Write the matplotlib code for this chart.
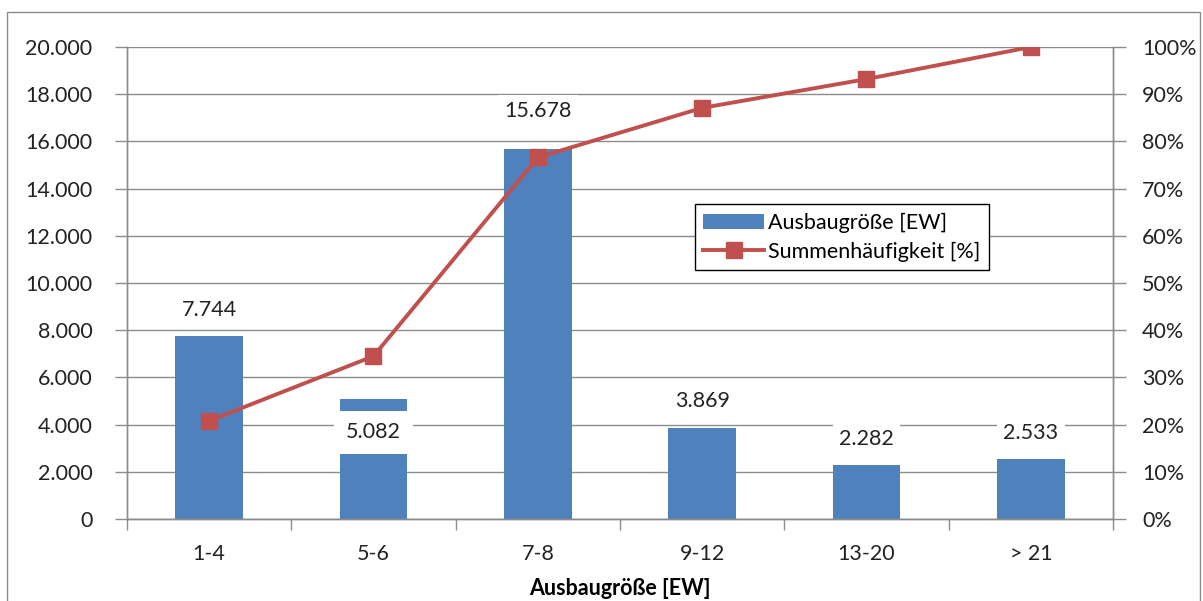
import matplotlib
matplotlib.use('Agg')
import matplotlib.pyplot as plt
import matplotlib.ticker as mticker
from matplotlib.patches import Rectangle, Patch
from matplotlib.lines import Line2D

plt.rcParams['font.family'] = ['Lato', 'DejaVu Sans']

categories = ['1-4', '5-6', '7-8', '9-12', '13-20', '> 21']
counts = [7744, 5082, 15678, 3869, 2282, 2533]
cumulative = [20.8, 34.5, 76.6, 87.1, 93.2, 100.0]
count_labels = ['7.744', '5.082', '15.678', '3.869', '2.282', '2.533']

blue = '#4F81BD'
red = '#C0504D'
grid = '#8C8C8C'
fs = 15.5

fig = plt.figure(figsize=(12.03, 6.01), dpi=100)
ax = fig.add_axes([127 / 1203, 1 - 519 / 601, 986 / 1203, 472 / 601])
ax2 = ax.twinx()

x = list(range(len(categories)))
ax.bar(x, counts, width=0.41, color=blue, zorder=2)

# label offsets in points, the 5-6 label sits inside its bar like in the original
offsets = [19, -24, 27, 19, 19, 19]
for xi, v, lab, off in zip(x, counts, count_labels, offsets):
    pad = 0.55 if off < 0 else 0.3
    ax.annotate(lab, (xi, v), xytext=(0, off), textcoords='offset points',
                ha='center', va='center', fontsize=fs, color='#222222', zorder=5,
                bbox=dict(boxstyle=f'square,pad={pad}', fc='white', ec='none'))

ax2.plot(x, [c / 100 for c in cumulative], color=red, lw=2.8, marker='s',
         markersize=11, markerfacecolor=red, markeredgecolor=red, zorder=4)

ax.set_xlim(-0.5, len(categories) - 0.5)
ax.set_ylim(0, 20000)
ax2.set_ylim(0, 1)
ax.set_yticks(range(0, 20001, 2000))
ax.yaxis.set_major_formatter(mticker.FuncFormatter(lambda v, p: f'{int(v):,}'.replace(',', '.')))
ax2.set_yticks([i / 10 for i in range(11)])
ax2.yaxis.set_major_formatter(mticker.FuncFormatter(lambda v, p: f'{int(round(v * 100))}%'))

ax.set_xticks(x)
ax.set_xticklabels(categories)
ax.set_xticks([i - 0.5 for i in range(len(categories) + 1)], minor=True)
ax.tick_params(axis='x', which='major', length=0, pad=18, labelsize=fs, colors='#222222')
ax.tick_params(axis='x', which='minor', length=8, color=grid, width=1)
ax.tick_params(axis='y', length=9, color=grid, width=1, pad=16, labelsize=fs, labelcolor='#222222')
ax2.tick_params(axis='y', length=9, color=grid, width=1, pad=12, labelsize=fs, labelcolor='#222222')

ax.grid(axis='y', color=grid, lw=1, zorder=0)
ax.set_axisbelow(True)
for a in (ax, ax2):
    a.spines['top'].set_visible(False)
    for s in ('left', 'right', 'bottom'):
        a.spines[s].set_color(grid)
        a.spines[s].set_linewidth(1)

ax.set_xlabel('Ausbaugröße [EW]', fontsize=fs, fontweight='bold', labelpad=10)

handles = [Patch(facecolor=blue, edgecolor='none'),
           Line2D([0], [0], color=red, lw=2.8, marker='s', markersize=11)]
leg = ax2.legend(handles, ['Ausbaugröße [EW]', 'Summenhäufigkeit [%]'],
                 loc='upper left', bbox_to_anchor=(0.565, 0.69), fontsize=fs,
                 frameon=True, fancybox=False, edgecolor='black', framealpha=1,
                 borderpad=0.4, handlelength=2.8, handletextpad=0.2, labelspacing=0.4)
leg.get_frame().set_linewidth(1)

fig.patches.append(Rectangle((7 / 1203, -0.05), 1193 / 1203, 1.05 - 12 / 601,
                             transform=fig.transFigure, fill=False, ec=grid, lw=1))

fig.savefig('out.png', dpi=100)
